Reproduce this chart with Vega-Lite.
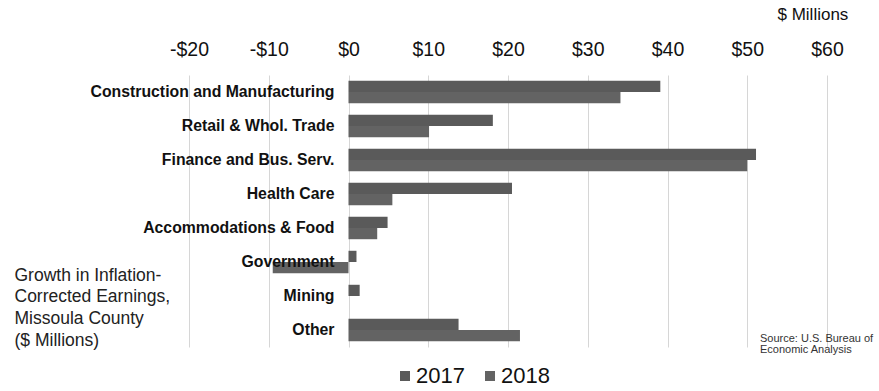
{
  "$schema": "https://vega.github.io/schema/vega-lite/v6.json",
  "autosize": "none",
  "width": 638,
  "height": 272,
  "padding": {"left": 189, "top": 75, "right": 52, "bottom": 44},
  "background": "white",
  "config": {"view": {"stroke": null}, "font": "Liberation Sans"},
  "title": {
    "text": ["Source: U.S. Bureau of", "Economic Analysis"],
    "orient": "top",
    "anchor": "start",
    "frame": "group",
    "dx": 571,
    "dy": 350,
    "offset": 0,
    "fontSize": 11,
    "fontWeight": "normal",
    "color": "#333333",
    "lineHeight": 11.5,
    "baseline": "top"
  },
  "data": {
    "values": [
      {"category": "Construction and Manufacturing", "year": "2017", "value": 39.1},
      {"category": "Construction and Manufacturing", "year": "2018", "value": 34.1},
      {"category": "Retail & Whol. Trade", "year": "2017", "value": 18.1},
      {"category": "Retail & Whol. Trade", "year": "2018", "value": 10.1},
      {"category": "Finance and Bus. Serv.", "year": "2017", "value": 51.1},
      {"category": "Finance and Bus. Serv.", "year": "2018", "value": 50.0},
      {"category": "Health Care", "year": "2017", "value": 20.5},
      {"category": "Health Care", "year": "2018", "value": 5.5},
      {"category": "Accommodations & Food", "year": "2017", "value": 4.9},
      {"category": "Accommodations & Food", "year": "2018", "value": 3.6},
      {"category": "Government", "year": "2017", "value": 1.0},
      {"category": "Government", "year": "2018", "value": -9.5},
      {"category": "Mining", "year": "2017", "value": 1.4},
      {"category": "Mining", "year": "2018", "value": 0},
      {"category": "Other", "year": "2017", "value": 13.8},
      {"category": "Other", "year": "2018", "value": 21.5}
    ]
  },
  "mark": {"type": "bar"},
  "encoding": {
    "x": {
      "field": "value",
      "type": "quantitative",
      "scale": {"domain": [-20, 60], "nice": false, "zero": false},
      "axis": {
        "orient": "top",
        "values": [-20, -10, 0, 10, 20, 30, 40, 50, 60],
        "labelExpr": "datum.value < 0 ? '-$' + abs(datum.value) : '$' + datum.value",
        "labelFlush": false,
        "labelOverlap": false,
        "labelFontSize": 19.5,
        "labelColor": "#111111",
        "labelPadding": 16,
        "domain": false,
        "ticks": false,
        "grid": true,
        "gridColor": "#d6d6d6",
        "gridWidth": 1,
        "title": "$ Millions",
        "titleX": 588,
        "titleY": -61,
        "titleAlign": "left",
        "titleBaseline": "middle",
        "titleFontSize": 17,
        "titleFontWeight": "normal",
        "titleColor": "#111111"
      }
    },
    "y": {
      "field": "category",
      "type": "nominal",
      "sort": null,
      "scale": {"paddingInner": 0.34, "paddingOuter": 0.17},
      "axis": {
        "orient": "left",
        "offset": -159,
        "zindex": 2,
        "domain": false,
        "ticks": false,
        "grid": false,
        "labelPadding": 14,
        "labelLimit": 0,
        "labelFontSize": 15.8,
        "labelFontWeight": "bold",
        "labelColor": "#111111",
        "title": ["Growth in Inflation-", "Corrected Earnings,", "Missoula County", "($ Millions)"],
        "titleAngle": 0,
        "titleX": -334,
        "titleY": 191,
        "titleAlign": "left",
        "titleBaseline": "top",
        "titleFontSize": 17.5,
        "titleFontWeight": "normal",
        "titleLineHeight": 21.7,
        "titleColor": "#222222"
      }
    },
    "yOffset": {"field": "year", "type": "nominal", "sort": ["2017", "2018"]},
    "color": {
      "field": "year",
      "type": "nominal",
      "scale": {"domain": ["2017", "2018"], "range": ["#5a5a5a", "#636363"]},
      "legend": {
        "orient": "none",
        "direction": "horizontal",
        "legendX": 205,
        "legendY": 290,
        "padding": 0,
        "title": null,
        "symbolType": "square",
        "symbolSize": 100,
        "symbolStrokeWidth": 0,
        "symbolFillColor": "#6a6a6a",
        "labelFontSize": 22,
        "labelColor": "#111111",
        "labelOffset": 0,
        "columnPadding": 14
      }
    }
  }
}
